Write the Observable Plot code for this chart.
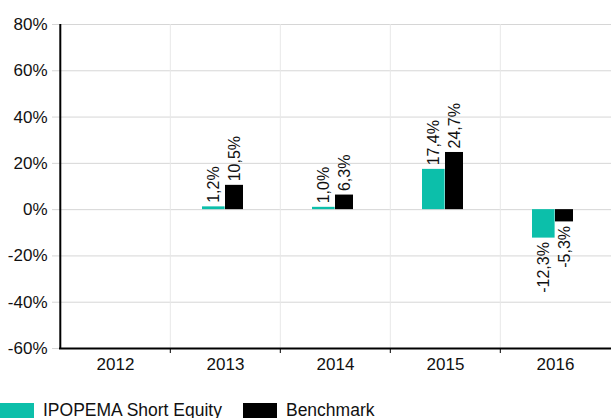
<!DOCTYPE html>
<html>
<head>
<meta charset="utf-8">
<script src="https://cdn.jsdelivr.net/npm/d3@7"></script>
<script src="https://cdn.jsdelivr.net/npm/@observablehq/plot@0.6"></script>
<style>
  body { margin: 0; background: #fff; font-family: "Liberation Sans", Arial, sans-serif; }
  #legend { position: relative; display: flex; align-items: flex-start; height: 18px; font-size: 17.5px; line-height: 17px; color: #111; }
  .sw { width: 34px; height: 15px; margin-right: 9px; margin-top: 3px; }
  .item { display: flex; align-items: flex-start; margin-right: 21px; }
  .item span { margin-top: 2px; }
</style>
</head>
<body>
<div id="chart"></div>
<div id="legend"></div>
<script>
const years = ["2012", "2013", "2014", "2015", "2016"];
const fundValues = [null, 1.2, 1.0, 17.4, -12.3];
const benchValues = [null, 10.5, 6.3, 24.7, -5.3];
const seriesNames = ["IPOPEMA Short Equity", "Benchmark"];
const seriesColors = ["#0cbfaa", "#000000"];
const yTicks = [-60, -40, -20, 0, 20, 40, 60, 80];

const fund = years.map((y, i) => ({year: y, value: fundValues[i]})).filter(d => d.value != null);
const bench = years.map((y, i) => ({year: y, value: benchValues[i]})).filter(d => d.value != null);
const fmt = v => v.toFixed(1).replace(".", ",") + "%";

const W = 611, H = 400, mL = 59, mR = 0;
const bw = (W - mL - mR) / years.length;

const labelMarks = (data, dx) => [
  Plot.text(data.filter(d => d.value >= 0), {x: "year", y: "value", text: d => fmt(d.value), rotate: -90, textAnchor: "start", dx, dy: -4, fontSize: 16, fill: "#111"}),
  Plot.text(data.filter(d => d.value < 0), {x: "year", y: "value", text: d => fmt(d.value), rotate: -90, textAnchor: "end", dx, dy: 4, fontSize: 16, fill: "#111"})
];

const chart = Plot.plot({
  width: W,
  height: H,
  marginLeft: mL,
  marginRight: mR,
  marginTop: 24,
  marginBottom: 52,
  style: {fontFamily: "'Liberation Sans', Arial, sans-serif", background: "#fff"},
  x: {domain: years, padding: 0, label: null},
  y: {domain: [-60, 80], label: null},
  marks: [
    Plot.ruleY(yTicks.filter(t => t > -60), {stroke: "#d6d6d6", strokeWidth: 1}),
    Plot.ruleX(years.slice(1), {x: d => d, dx: -bw / 2, stroke: "#e8e8e8", strokeWidth: 1}),
    Plot.ruleX(years.slice(1), {x: d => d, y1: -60, y2: -60, dx: -bw / 2, insetBottom: -5, stroke: "#000", strokeWidth: 1}),
    Plot.axisY({ticks: yTicks, tickSize: 7, tickPadding: 5, stroke: "#d6d6d6", fill: "#111", fontSize: 17, tickFormat: d => d + "%", label: null}),
    Plot.axisX({tickSize: 0, tickPadding: 9, fontSize: 17, fill: "#111", label: null}),
    Plot.barY(fund, {x: "year", y: "value", fill: seriesColors[0], insetLeft: 32, insetRight: 55.4}),
    Plot.barY(bench, {x: "year", y: "value", fill: seriesColors[1], insetLeft: 55, insetRight: 37}),
    ...labelMarks(fund, -12),
    ...labelMarks(bench, 9),
    Plot.ruleY([-60], {stroke: "#000", strokeWidth: 2}),
    Plot.ruleX([years[0]], {x: d => d, dx: -bw / 2, stroke: "#000", strokeWidth: 2})
  ]
});
document.getElementById("chart").appendChild(chart);

const legend = document.getElementById("legend");
seriesNames.forEach((name, i) => {
  const item = document.createElement("div");
  item.className = "item";
  const sw = document.createElement("div");
  sw.className = "sw";
  sw.style.background = seriesColors[i];
  const t = document.createElement("span");
  t.textContent = name;
  item.appendChild(sw);
  item.appendChild(t);
  legend.appendChild(item);
});
</script>
</body>
</html>
